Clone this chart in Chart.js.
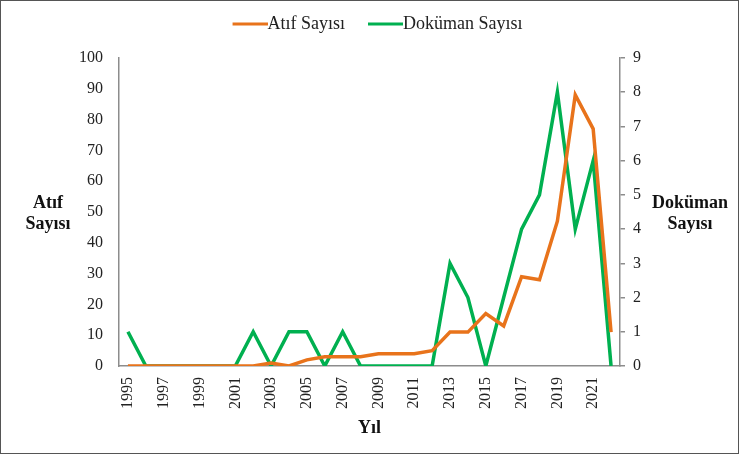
<!DOCTYPE html>
<html>
<head>
<meta charset="utf-8">
<script src="https://cdn.jsdelivr.net/npm/chart.js@4"></script>
<style>
  body { margin: 0; background: #fff; }
  #box { position: relative; width: 739px; height: 454px; box-sizing: border-box; border: 1px solid #555; }
  canvas { display: block; }
</style>
</head>
<body>
<div id="box"><canvas id="chart" width="737" height="452"></canvas></div>
<script>
const years = [];
for (let y = 1995; y <= 2022; y++) years.push(String(y));

const atifSayisi = [0, 0, 0, 0, 0, 0, 0, 0, 1, 0, 2, 3, 3, 3, 4, 4, 4, 5, 11, 11, 17, 13, 29, 28, 47, 88, 77, 11];
const dokumanSayisi = [1, 0, 0, 0, 0, 0, 0, 1, 0, 1, 1, 0, 1, 0, 0, 0, 0, 0, 3, 2, 0, 2, 4, 5, 8, 4, 6, 0];

const fontFamily = '"Liberation Serif", "Times New Roman", serif';
const orange = '#e8731b';
const green = '#00b050';

// legend sample: a short thick line that sits right against the label text
function legendLine(color) {
    const c = document.createElement('canvas');
    c.width = 44;
    c.height = 4;
    const g = c.getContext('2d');
    g.fillStyle = color;
    g.fillRect(9, 0.5, 35, 3);
    return c;
}

// side titles drawn horizontally, like the original
const sideTitles = {
    id: 'sideTitles',
    afterDraw(chart) {
        const { ctx } = chart;
        ctx.save();
        ctx.font = 'bold 18px ' + fontFamily;
        ctx.fillStyle = '#111';
        ctx.textAlign = 'center';
        ctx.textBaseline = 'middle';
        ctx.fillText('Atıf', 47, 202);
        ctx.fillText('Sayısı', 47, 223);
        ctx.fillText('Doküman', 689, 202);
        ctx.fillText('Sayısı', 689, 223);
        ctx.restore();
    }
};

// legend padding is wide between items; adjust its height and lift it
const legendMargin = {
    id: 'legendMargin',
    beforeInit(chart) {
        const fit = chart.legend.fit;
        chart.legend.fit = function () {
            fit.bind(chart.legend)();
            this.height += 2;
        };
    },
    afterLayout(chart) {
        chart.legend.left += 8;
        chart.legend.right += 8;
        chart.legend.top -= 13;
    }
};

new Chart(document.getElementById('chart'), {
    type: 'line',
    data: {
        labels: years,
        datasets: [
            {
                label: 'Atıf Sayısı',
                data: atifSayisi,
                borderColor: orange,
                backgroundColor: orange,
                pointStyle: legendLine(orange),
                borderWidth: 3.5,
                pointRadius: 0,
                tension: 0,
                yAxisID: 'y',
            },
            {
                label: 'Doküman Sayısı',
                data: dokumanSayisi,
                borderColor: green,
                backgroundColor: green,
                pointStyle: legendLine(green),
                borderWidth: 3.5,
                pointRadius: 0,
                tension: 0,
                yAxisID: 'y1',
            }
        ]
    },
    options: {
        responsive: false,
        animation: false,
        layout: { padding: { top: 4, left: 0, right: 0, bottom: 0 } },
        plugins: {
            legend: {
                display: true,
                position: 'top',
                labels: {
                    usePointStyle: true,
                    pointStyleWidth: 26,
                    boxHeight: 4,
                    padding: 23,
                    color: '#222',
                    font: { family: fontFamily, size: 18 }
                }
            },
            tooltip: { enabled: false }
        },
        scales: {
            x: {
                offset: true,
                grid: { display: false, drawTicks: false },
                border: { display: true, color: '#8c8c8c', width: 1.5 },
                ticks: {
                    autoSkip: false,
                    maxRotation: 90,
                    minRotation: 90,
                    padding: 11,
                    color: '#222',
                    font: { family: fontFamily, size: 16 },
                    callback: (v, i) => (i % 2 === 0 ? years[i] : '')
                },
                title: {
                    display: true,
                    text: 'Yıl',
                    color: '#111',
                    font: { family: fontFamily, size: 18, weight: 'bold' },
                    padding: { top: 4, bottom: 14 }
                },
                afterFit: (scale) => { scale.height = 87; }
            },
            y: {
                position: 'left',
                min: 0,
                max: 100,
                ticks: { stepSize: 10, padding: 16, color: '#222', font: { family: fontFamily, size: 16 } },
                grid: { drawOnChartArea: false, drawTicks: false },
                border: { color: '#8c8c8c', width: 1.5 },
                afterFit: (scale) => { scale.width = 118; }
            },
            y1: {
                position: 'right',
                min: 0,
                max: 9,
                ticks: { stepSize: 1, padding: 8, color: '#222', font: { family: fontFamily, size: 16 } },
                grid: { drawOnChartArea: false, tickLength: 5, color: '#8c8c8c', lineWidth: 1.5 },
                border: { color: '#8c8c8c', width: 1.5 },
                afterFit: (scale) => { scale.width = 118; }
            }
        }
    },
    plugins: [sideTitles, legendMargin]
});
</script>
</body>
</html>
